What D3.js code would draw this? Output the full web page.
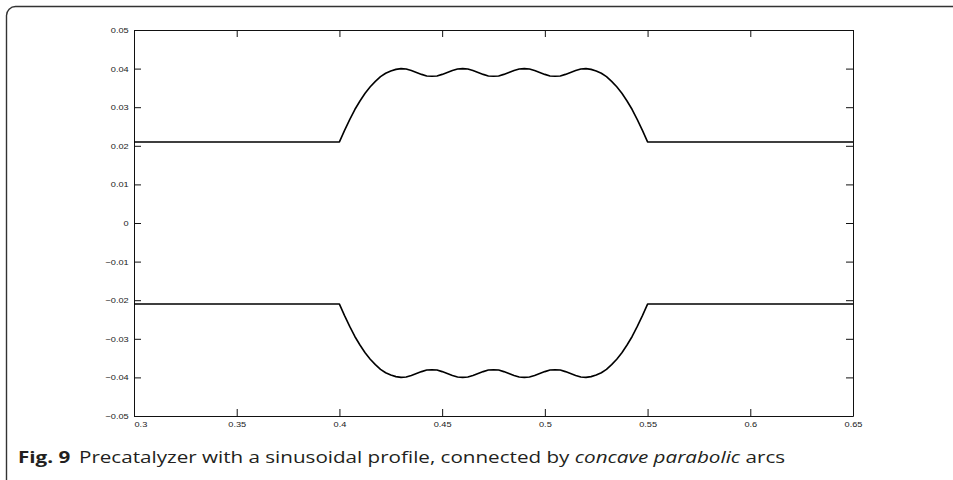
<!DOCTYPE html>
<html>
<head>
<meta charset="utf-8">
<script src="https://cdn.jsdelivr.net/npm/d3@7"></script>
<style>
  html, body { margin: 0; padding: 0; background: #fff; }
  svg { display: block; }
</style>
</head>
<body>
<svg id="chart" width="953" height="480"></svg>
<script>
// Wall profile of the precatalyzer: abscissa and upper / lower contour
const xs = [0.3, 0.4, 0.4025, 0.405, 0.4075, 0.41, 0.4125, 0.415, 0.4175, 0.42, 0.4225, 0.425, 0.4275, 0.43,
  0.4325, 0.435, 0.4375, 0.44, 0.4425, 0.445, 0.4475, 0.45, 0.4525, 0.455, 0.4575, 0.46,
  0.4625, 0.465, 0.4675, 0.47, 0.4725, 0.475, 0.4775, 0.48, 0.4825, 0.485, 0.4875, 0.49,
  0.4925, 0.495, 0.4975, 0.5, 0.5025, 0.505, 0.5075, 0.51, 0.5125, 0.515, 0.5175, 0.52,
  0.5225, 0.525, 0.5275, 0.53, 0.5325, 0.535, 0.5375, 0.54, 0.5425, 0.545, 0.5475, 0.55, 0.65];

const upper = [0.021, 0.021, 0.0240, 0.0268, 0.0294, 0.0316, 0.0336, 0.0353, 0.0367, 0.0379, 0.0388, 0.0394, 0.0398, 0.0400,
  0.0399, 0.0395, 0.0390, 0.0385, 0.0381, 0.0380, 0.0381, 0.0385, 0.0390, 0.0395, 0.0399, 0.0400,
  0.0399, 0.0395, 0.0390, 0.0385, 0.0381, 0.0380, 0.0381, 0.0385, 0.0390, 0.0395, 0.0399, 0.0400,
  0.0399, 0.0395, 0.0390, 0.0385, 0.0381, 0.0380, 0.0381, 0.0385, 0.0390, 0.0395, 0.0399, 0.0400,
  0.0398, 0.0394, 0.0388, 0.0379, 0.0367, 0.0353, 0.0336, 0.0316, 0.0294, 0.0268, 0.0240, 0.0210, 0.021];

const lower = [-0.021, -0.021, -0.0240, -0.0268, -0.0294, -0.0316, -0.0336, -0.0353, -0.0367, -0.0379, -0.0388, -0.0394, -0.0398, -0.0400,
  -0.0399, -0.0395, -0.0390, -0.0385, -0.0381, -0.0380, -0.0381, -0.0385, -0.0390, -0.0395, -0.0399, -0.0400,
  -0.0399, -0.0395, -0.0390, -0.0385, -0.0381, -0.0380, -0.0381, -0.0385, -0.0390, -0.0395, -0.0399, -0.0400,
  -0.0399, -0.0395, -0.0390, -0.0385, -0.0381, -0.0380, -0.0381, -0.0385, -0.0390, -0.0395, -0.0399, -0.0400,
  -0.0398, -0.0394, -0.0388, -0.0379, -0.0367, -0.0353, -0.0336, -0.0316, -0.0294, -0.0268, -0.0240, -0.0210, -0.021];

const xTicks = [0.3, 0.35, 0.4, 0.45, 0.5, 0.55, 0.6, 0.65];
const xTickLabels = ["0.3", "0.35", "0.4", "0.45", "0.5", "0.55", "0.6", "0.65"];
const yTicks = [-0.05, -0.04, -0.03, -0.02, -0.01, 0, 0.01, 0.02, 0.03, 0.04, 0.05];
const yTickLabels = ["\u22120.05", "\u22120.04", "\u22120.03", "\u22120.02", "\u22120.01", "0", "0.01", "0.02", "0.03", "0.04", "0.05"];

(function () {
  const svg = d3.select("#chart");

  // rounded figure frame (runs off the right and bottom edges)
  svg.append("rect")
    .attr("x", 6.5).attr("y", 6.5)
    .attr("width", 1000).attr("height", 1000)
    .attr("rx", 9).attr("ry", 9)
    .attr("fill", "none")
    .attr("stroke", "#333")
    .attr("stroke-width", 1.4);

  const plotLeft = 134, plotRight = 853, plotTop = 30, plotBottom = 416;
  const x = d3.scaleLinear().domain([0.3, 0.65]).range([plotLeft, plotRight]);
  const y = d3.scaleLinear().domain([-0.05, 0.05]).range([plotBottom, plotTop]);

  const tickFont = "'Liberation Sans', Arial, Helvetica, sans-serif";
  const tickLen = 7;

  function styleAxis(g) {
    g.selectAll(".domain").attr("stroke", "#111").attr("stroke-width", 1);
    g.selectAll(".tick line").attr("stroke", "#111").attr("stroke-width", 1);
    g.selectAll(".tick text")
      .attr("fill", "#222")
      .attr("transform", "scale(1.18,1)")
      .style("font-family", tickFont)
      .style("font-size", "7.8px");
  }

  // bottom axis with labels, ticks pointing inward
  const gx = svg.append("g")
    .attr("transform", `translate(0,${plotBottom})`)
    .call(d3.axisBottom(x).tickValues(xTicks)
      .tickFormat((d, i) => xTickLabels[i])
      .tickSizeInner(-tickLen).tickSizeOuter(0).tickPadding(5))
    .call(styleAxis);
  gx.selectAll(".tick text").filter((d, i) => i === 0).attr("text-anchor", "start");

  // left axis with labels
  svg.append("g")
    .attr("transform", `translate(${plotLeft},0)`)
    .call(d3.axisLeft(y).tickValues(yTicks)
      .tickFormat((d, i) => yTickLabels[i])
      .tickSizeInner(-tickLen).tickSizeOuter(0).tickPadding(4.5))
    .call(styleAxis);

  // top and right box edges with inward ticks
  svg.append("g")
    .attr("transform", `translate(0,${plotTop})`)
    .call(d3.axisTop(x).tickValues(xTicks).tickFormat("")
      .tickSizeInner(-tickLen).tickSizeOuter(0))
    .call(styleAxis);

  svg.append("g")
    .attr("transform", `translate(${plotRight},0)`)
    .call(d3.axisRight(y).tickValues(yTicks).tickFormat("")
      .tickSizeInner(-tickLen).tickSizeOuter(0))
    .call(styleAxis);

  // profile contours
  const line = d3.line()
    .x((d, i) => x(xs[i]))
    .y(d => y(d));

  [upper, lower].forEach(series => {
    svg.append("path")
      .datum(series)
      .attr("d", line)
      .attr("fill", "none")
      .attr("stroke", "#000")
      .attr("stroke-width", 1.6)
      .attr("stroke-linejoin", "round");
  });

  // caption, set in a wide face: stretched horizontally to its line length
  const capStart = 18, capEnd = 786;
  const capG = svg.append("g");
  const cap = capG.append("text")
    .attr("x", 0).attr("y", 0)
    .attr("fill", "#231f20")
    .style("font-family", "'Open Sans', 'Noto Sans', sans-serif")
    .style("font-size", "16.5px");
  cap.append("tspan").style("font-weight", "bold").text("Fig. 9");
  cap.append("tspan").attr("dx", 7).text("Precatalyzer with a sinusoidal profile, connected by ");
  cap.append("tspan").style("font-style", "italic").text("concave parabolic");
  cap.append("tspan").text(" arcs");
  const bb = cap.node().getBBox();
  const sx = (capEnd - capStart) / bb.width;
  capG.attr("transform", `translate(${capStart - bb.x * sx},463) scale(${sx},1)`);
})();
</script>
</body>
</html>
